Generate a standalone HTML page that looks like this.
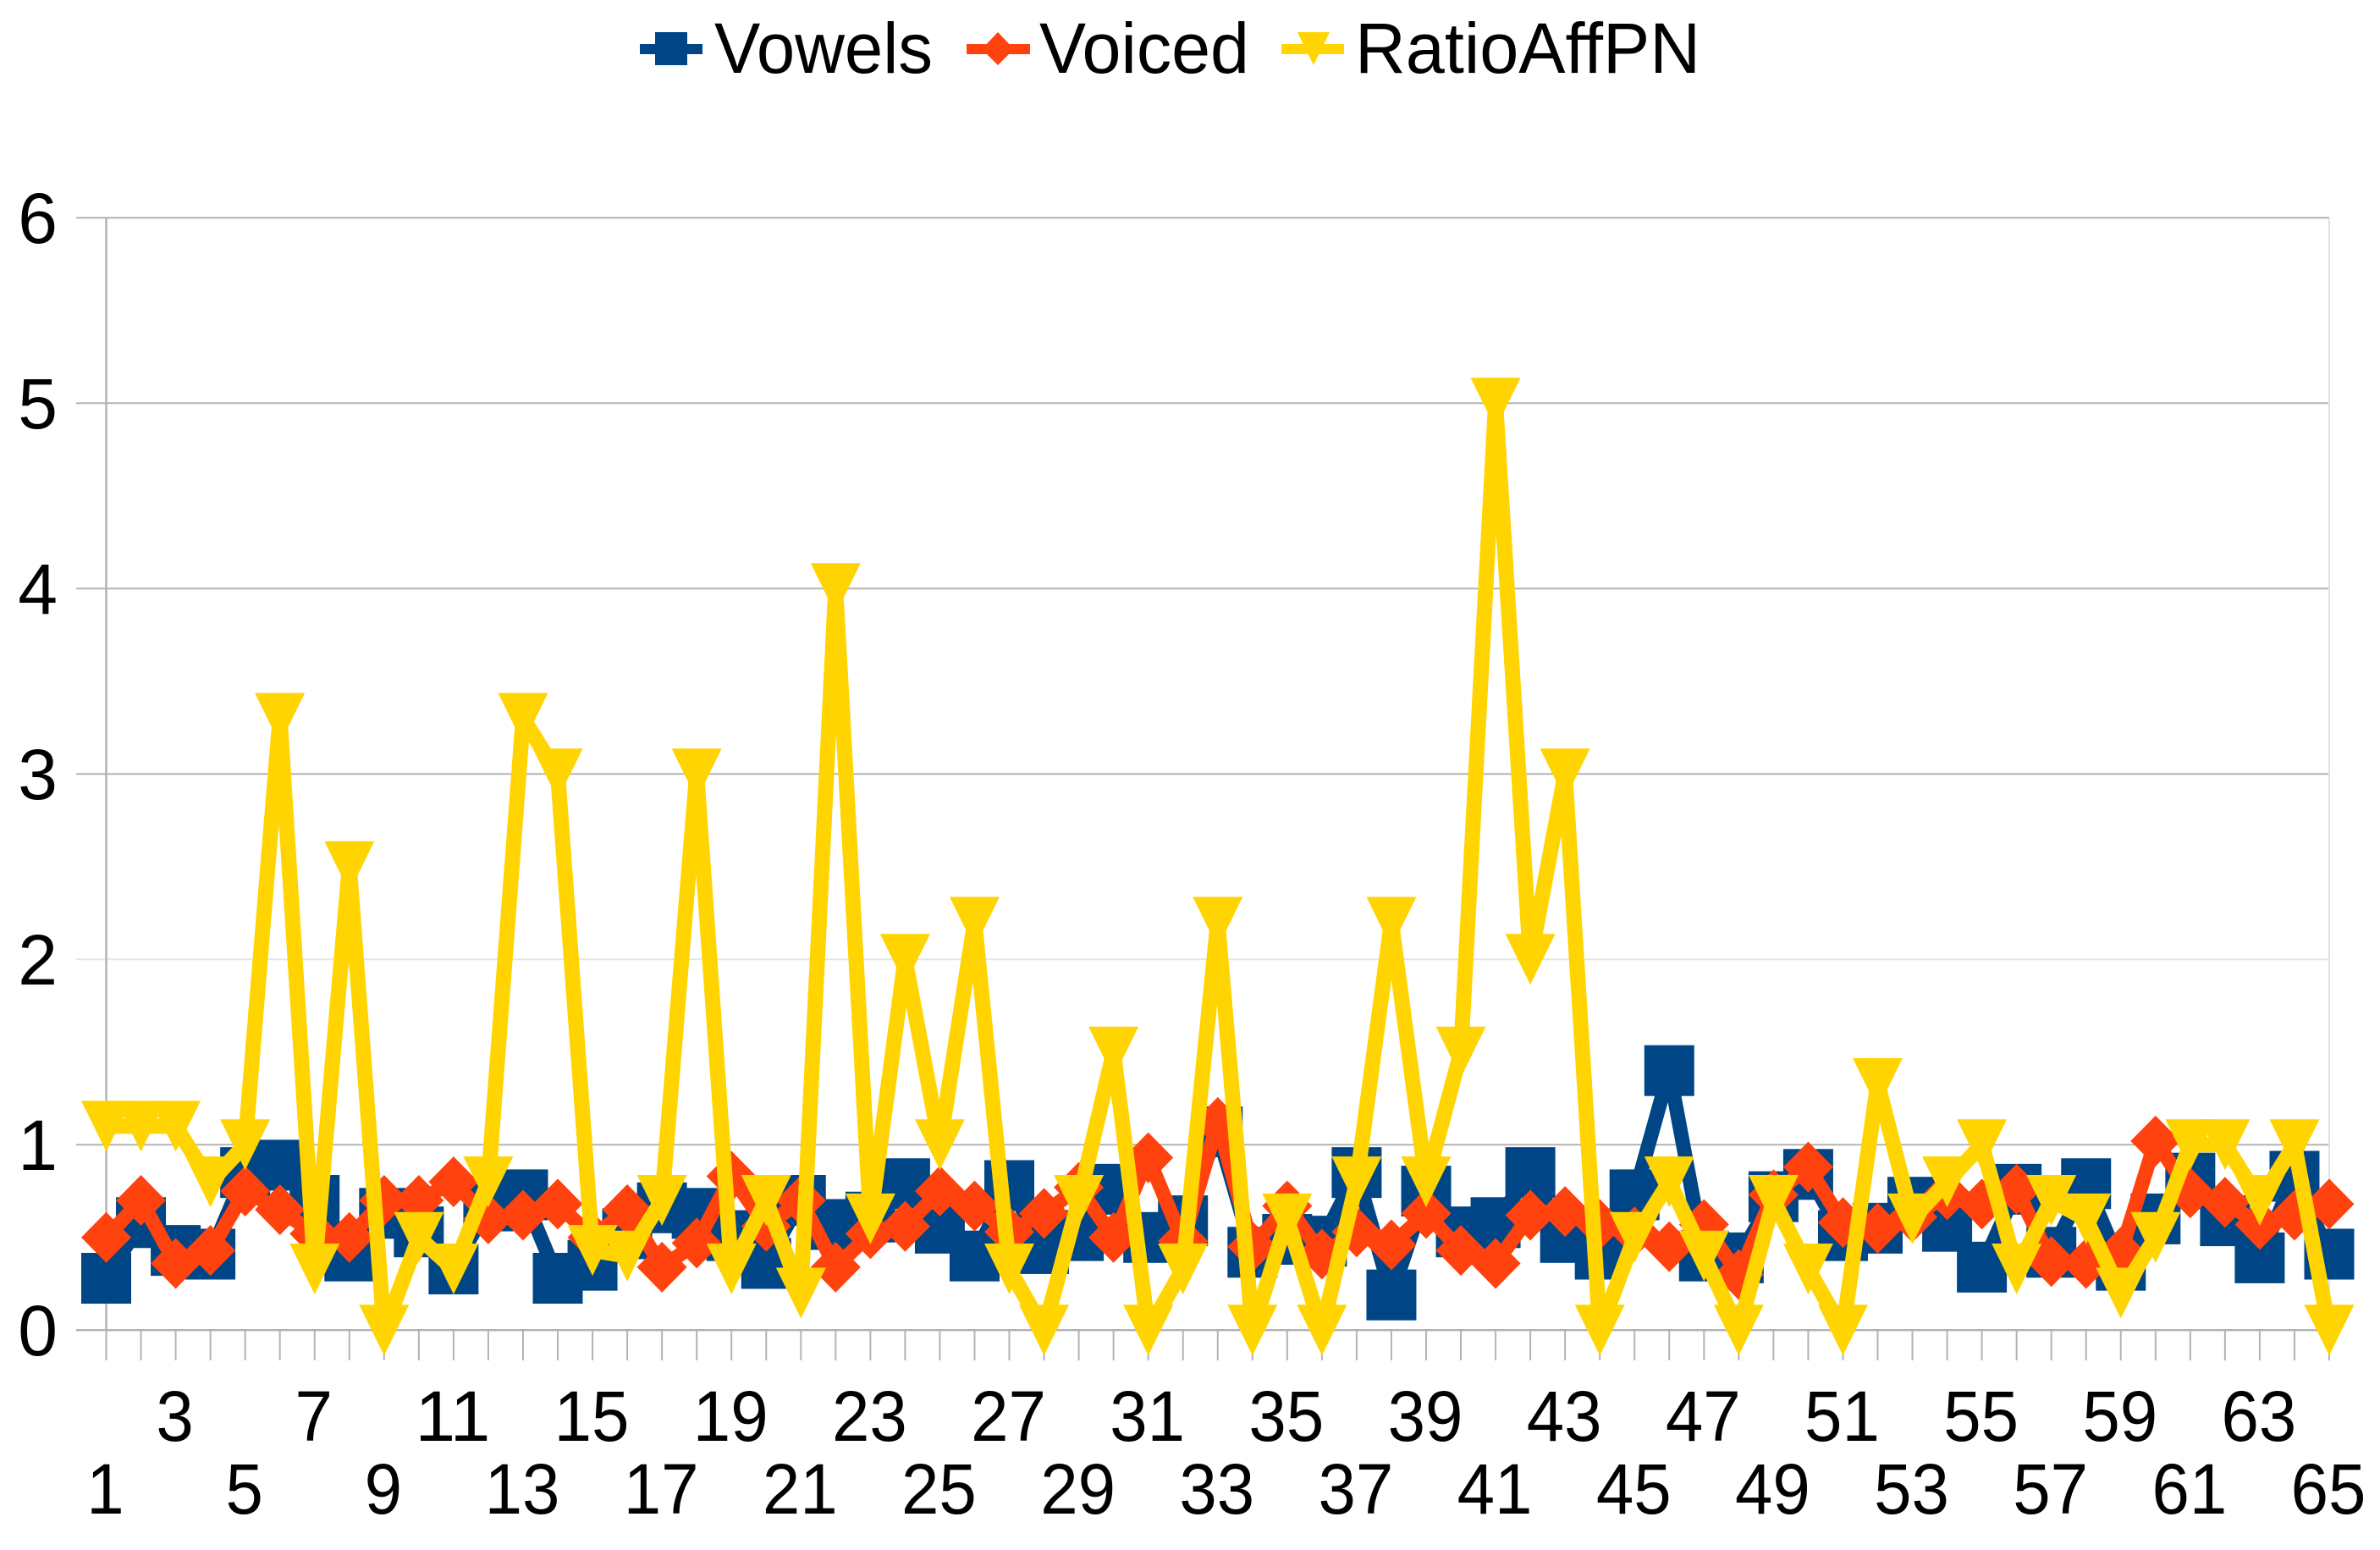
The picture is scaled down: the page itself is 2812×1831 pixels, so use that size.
<!DOCTYPE html>
<html lang="en">
<head>
<meta charset="utf-8">
<title>Vowels, Voiced and RatioAffPN line chart</title>
<style>
html,body{margin:0;padding:0;background:#fff;}
svg{display:block;}
text{font-family:"Liberation Sans",sans-serif;fill:#000;}
</style>
</head>
<body>
<svg id="chart" xmlns="http://www.w3.org/2000/svg" width="2812" height="1831" viewBox="0 0 2812 1831">
  <rect x="0" y="0" width="2812" height="1831" fill="#ffffff"/>
  <g id="grid"></g>
  <g id="xticks"></g>
  <g id="ylabels"></g>
  <g id="xlabels"></g>
  <g id="series"></g>
  <g>
    <g>
      <rect x="756" y="52" width="74" height="12" fill="#004586"/>
      <rect x="774" y="38" width="38" height="39" fill="#004586"/>
      <text x="844" y="86" font-size="84" textLength="258" lengthAdjust="spacingAndGlyphs">Vowels</text>
    </g>
    <g>
      <rect x="1142" y="52" width="75" height="12" fill="#ff420e"/>
      <polygon points="1179,38 1198,58 1179,77 1160,58" fill="#ff420e"/>
      <text x="1228" y="86" font-size="84" textLength="248" lengthAdjust="spacingAndGlyphs">Voiced</text>
    </g>
    <g>
      <rect x="1514" y="52" width="74" height="12" fill="#ffd400"/>
      <polygon points="1533,38 1571,38 1552,77" fill="#ffd400"/>
      <text x="1601" y="86" font-size="84" textLength="408" lengthAdjust="spacingAndGlyphs">RatioAffPN</text>
    </g>
  </g>
</svg>
<script>
const categories = [1,2,3,4,5,6,7,8,9,10,11,12,13,14,15,16,17,18,19,20,21,22,23,24,25,26,27,28,29,30,31,32,33,34,35,36,37,38,39,40,41,42,43,44,45,46,47,48,49,50,51,52,53,54,55,56,57,58,59,60,61,62,63,64,65];
const yTickLabels = [0,1,2,3,4,5,6];
const vowels = [0.28,0.58,0.43,0.41,0.85,0.89,0.70,0.40,0.63,0.53,0.33,0.67,0.73,0.28,0.35,0.52,0.66,0.63,0.51,0.36,0.70,0.57,0.61,0.79,0.55,0.40,0.78,0.44,0.51,0.76,0.50,0.59,1.07,0.42,0.49,0.48,0.85,0.19,0.75,0.53,0.58,0.85,0.50,0.41,0.73,1.40,0.40,0.39,0.72,0.84,0.51,0.55,0.69,0.56,0.34,0.76,0.42,0.79,0.35,0.60,0.82,0.59,0.39,0.83,0.41];
const voiced = [0.50,0.70,0.36,0.43,0.75,0.65,0.52,0.50,0.70,0.70,0.80,0.60,0.62,0.68,0.50,0.65,0.34,0.47,0.83,0.56,0.70,0.34,0.52,0.56,0.75,0.67,0.53,0.63,0.77,0.50,0.93,0.48,1.12,0.45,0.67,0.41,0.53,0.46,0.63,0.43,0.36,0.62,0.64,0.57,0.53,0.45,0.57,0.30,0.73,0.88,0.58,0.55,0.61,0.73,0.68,0.76,0.37,0.36,0.42,1.02,0.74,0.69,0.57,0.62,0.68];
const ratioAffPN = [1.10,1.10,1.10,0.80,1.00,3.30,0.33,2.50,0,0.50,0.33,0.80,3.30,3.00,0.43,0.40,0.70,3.00,0.33,0.70,0.20,4.00,0.60,2.00,1.00,2.20,0.33,0,0.70,1.50,0,0.33,2.20,0,0.60,0,0.80,2.20,0.80,1.50,5.00,2.00,3.00,0,0.50,0.80,0.40,0,0.70,0.33,0,1.33,0.60,0.80,1.00,0.33,0.70,0.60,0.20,0.50,1.00,1.00,0.70,1.00,0];

const SVGNS = 'http://www.w3.org/2000/svg';
const plotLeft = 125.5, plotRight = 2752, plotTop = 257.3, plotBottom = 1571.3, yMax = 6;
function xPos(i){ return plotLeft + (plotRight - plotLeft) * i / (categories.length - 1); }
function yPos(v){ return plotBottom - (plotBottom - plotTop) * v / yMax; }
function make(tag, attrs){
  const el = document.createElementNS(SVGNS, tag);
  for (const k in attrs) el.setAttribute(k, attrs[k]);
  return el;
}

const gridG = document.getElementById('grid');
yTickLabels.forEach(function(v){
  const line = make('line', {x1: 90, x2: plotRight, y1: yPos(v), y2: yPos(v), stroke: v === 2 ? '#e6e6e6' : '#b3b3b3', 'stroke-width': v === 0 ? 2.5 : 2});
  
  
  gridG.appendChild(line);
});
const yAxis = make('line', {x1: plotLeft, x2: plotLeft, y1: plotTop, y2: plotBottom, stroke: '#b3b3b3', 'stroke-width': 2.5});


gridG.appendChild(yAxis);
const rightEdge = make('line', {x1: plotRight, x2: plotRight, y1: plotTop, y2: plotBottom, stroke: '#e2e2e2', 'stroke-width': 2});


gridG.appendChild(rightEdge);

const xTicksG = document.getElementById('xticks');
const xLabelsG = document.getElementById('xlabels');
categories.forEach(function(c, i){
  const t = make('line', {x1: xPos(i), x2: xPos(i), y1: plotBottom, y2: 1607, stroke: '#b3b3b3', 'stroke-width': 2});
  
  
  xTicksG.appendChild(t);
  if (i % 2 === 0) {
    const label = String(c);
    const lbl = make('text', {x: xPos(i) - 1, y: i % 4 === 0 ? 1788 : 1702, 'font-size': 84, 'text-anchor': 'middle', textLength: label.length * 44.4, lengthAdjust: 'spacingAndGlyphs'});
    lbl.textContent = label;
    
    
    xLabelsG.appendChild(lbl);
  }
});

const yLabelsG = document.getElementById('ylabels');
yTickLabels.forEach(function(v){
  const lbl = make('text', {x: 68, y: yPos(v) + 29.5, 'font-size': 84, 'text-anchor': 'end'});
  lbl.textContent = String(v);
  
  
  yLabelsG.appendChild(lbl);
});

const seriesG = document.getElementById('series');
const halfW = 29.5, halfH = 30;
function linePoints(values){
  return values.map(function(v, i){ return xPos(i) + ',' + yPos(v); }).join(' ');
}
function markerFor(kind, x, y, color){
  if (kind === 'square') return make('rect', {x: x - halfW, y: y - halfH, width: 2 * halfW, height: 2 * halfH, fill: color});
  if (kind === 'diamond') return make('polygon', {points: x + ',' + (y - halfH) + ' ' + (x + halfW) + ',' + y + ' ' + x + ',' + (y + halfH) + ' ' + (x - halfW) + ',' + y, fill: color});
  return make('polygon', {points: (x - halfW) + ',' + (y - halfH) + ' ' + (x + halfW) + ',' + (y - halfH) + ' ' + x + ',' + (y + halfH), fill: color});
}
function drawSeries(name, values, color, kind, width){
  const g = make('g', {});
  
  
  const pl = make('polyline', {points: linePoints(values), fill: 'none', stroke: color, 'stroke-width': width, 'stroke-linejoin': 'miter', 'stroke-miterlimit': 2});
  
  
  g.appendChild(pl);
  values.forEach(function(v, i){
    const m = markerFor(kind, xPos(i), yPos(v), color);
    
    
    g.appendChild(m);
  });
  seriesG.appendChild(g);
}
drawSeries('vowels', vowels, '#004586', 'square', 17);
drawSeries('voiced', voiced, '#ff420e', 'diamond', 17);
drawSeries('ratioaffpn', ratioAffPN, '#ffd400', 'triangle', 18);
</script>
</body>
</html>
